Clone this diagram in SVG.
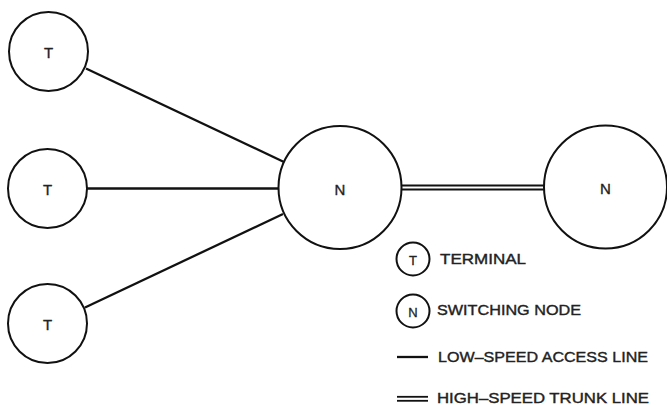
<svg xmlns="http://www.w3.org/2000/svg" width="667" height="405" viewBox="0 0 667 405">
<style>
.node{fill:#fff;stroke:#111;stroke-width:2}
.lbl{font-family:"Liberation Sans",Arial,sans-serif;font-size:15px;fill:#222;stroke:#222;stroke-width:0.35;text-anchor:middle;dominant-baseline:central}
.slbl{font-family:"Liberation Sans",Arial,sans-serif;font-size:13px;fill:#222;stroke:#222;stroke-width:0.3;text-anchor:middle;dominant-baseline:central}
.leg{font-family:"Liberation Sans",Arial,sans-serif;font-size:15px;fill:#222;stroke:#222;stroke-width:0.4}
.line{stroke:#111;stroke-width:2.3;fill:none}
.trunk{stroke:#111;stroke-width:1.8;fill:none}
</style>
<rect width="667" height="405" fill="#fff"/>
<g id="connectors">
<line class="line" x1="86" y1="68.5" x2="284" y2="162"/>
<line class="line" x1="87" y1="188.5" x2="280" y2="188.5"/>
<line class="line" x1="85" y1="307.5" x2="283" y2="214"/>
<line class="trunk" x1="401" y1="185.5" x2="545" y2="185.5"/>
<line class="trunk" x1="401" y1="189.5" x2="545" y2="189.5"/>
</g>
<g id="t1"><circle class="node" cx="48.5" cy="51.5" r="39.5"/><text class="lbl" x="48.5" y="52">T</text></g>
<g id="t2"><circle class="node" cx="47.5" cy="188.5" r="39.5"/><text class="lbl" x="47.5" y="189">T</text></g>
<g id="t3"><circle class="node" cx="47.5" cy="323.5" r="39.5"/><text class="lbl" x="47.5" y="324">T</text></g>
<g id="n1"><circle class="node" cx="340" cy="187.5" r="61.5"/><text class="lbl" x="340" y="189">N</text></g>
<g id="n2"><circle class="node" cx="605.5" cy="187" r="61.5"/><text class="lbl" x="605.5" y="188">N</text></g>
<g id="legend">
<circle class="node" cx="413" cy="259" r="16.5"/><text class="slbl" x="413" y="260">T</text>
<text class="leg" x="440" y="264" textLength="86" lengthAdjust="spacingAndGlyphs">TERMINAL</text>
<circle class="node" cx="413" cy="311" r="16.5"/><text class="slbl" x="413" y="312">N</text>
<text class="leg" x="437" y="315" textLength="144" lengthAdjust="spacingAndGlyphs">SWITCHING NODE</text>
<line class="line" x1="397" y1="357" x2="428" y2="357"/>
<text class="leg" x="438" y="362" textLength="210" lengthAdjust="spacingAndGlyphs">LOW–SPEED ACCESS LINE</text>
<line class="trunk" x1="397" y1="396.8" x2="428" y2="396.8"/>
<line class="trunk" x1="397" y1="400.8" x2="428" y2="400.8"/>
<text class="leg" x="437" y="403" textLength="212" lengthAdjust="spacingAndGlyphs">HIGH–SPEED TRUNK LINE</text>
</g>
</svg>
